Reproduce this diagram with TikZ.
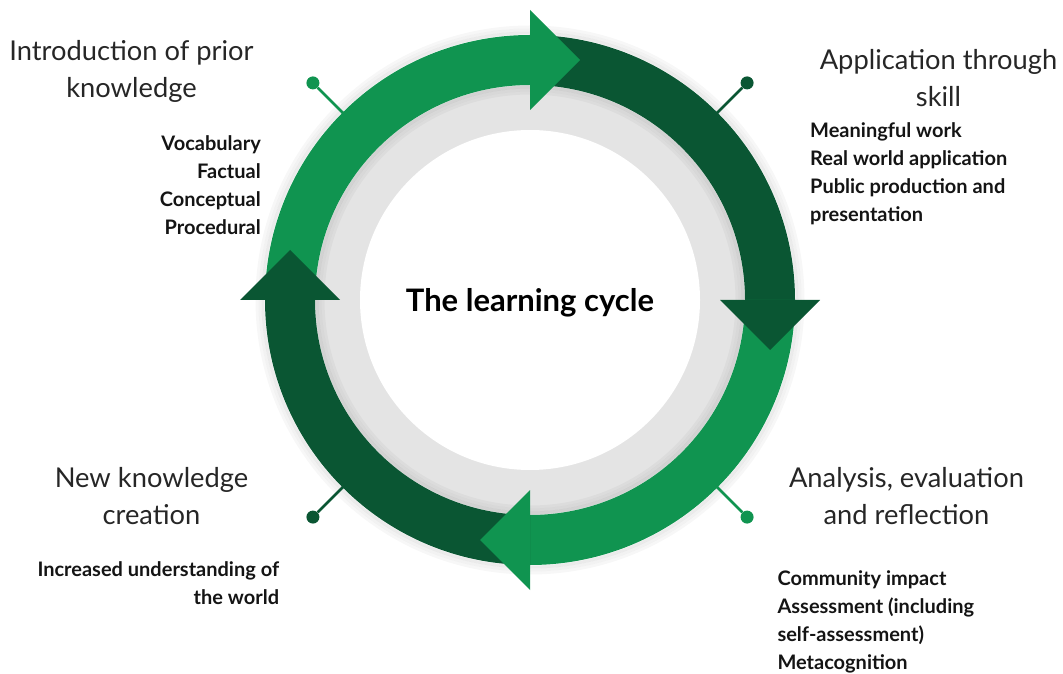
\documentclass[tikz,border=0pt]{standalone}
\usepackage{fontspec}
\setmainfont{Lato}
\usetikzlibrary{calc}
\definecolor{cyclelight}{HTML}{109450}
\definecolor{cycledark}{HTML}{0A5633}
\definecolor{ringgrey}{HTML}{E4E4E4}

\begin{document}
\begin{tikzpicture}[x=1pt, y=1pt,
    title/.style={inner sep=0, anchor=base, text=black!85, font=\fontsize{27.3}{30}\selectfont},
    item/.style={inner sep=0, text=black!92, font=\fontsize{20}{24}\selectfont\bfseries},
    knob/.style={circle, inner sep=0, minimum size=13pt}]
  \useasboundingbox (0,0) rectangle (1063,673);
  \coordinate (c) at (530,373);
  % grey ring
  \fill[ringgrey] (c) circle[radius=215];
  \foreach \r/\o in {213/.08, 210/.05, 207/.03}
  \draw[black, opacity=\o, line width=3pt] (c) circle[radius=\r];
  \fill[white] (c) circle[radius=170];
  \foreach \r/\o in {267/.08, 270/.05, 273/.03}
  \draw[black, opacity=\o, line width=3pt] (c) circle[radius=\r];
  % arrows
  \foreach \a/\col in {180/cyclelight, 90/cycledark, 0/cyclelight, 270/cycledark}
  \fill[\col] ($(c)+(\a:265)$) arc[start angle=\a, end angle=\a-90, radius=265]
    -- ($(c)+(\a-90:215)$) arc[start angle=\a-90, end angle=\a, radius=215] -- cycle;
  \foreach \a/\col in {90/cyclelight, 0/cycledark, 270/cyclelight, 180/cycledark}
  \fill[\col] ($(c)+(\a:190)$) -- ($(c)+(\a:290)$) -- ($(c)+(\a:240)+(\a-90:50)$) -- cycle;
  % knobs
  \foreach \a/\col [count=\i] in {135/cyclelight, 45/cycledark, 225/cycledark, 315/cyclelight}{
    \node[knob, fill=\col] (knob\i) at ($(c)+(\a:307)$) {};
    \draw[\col, line width=2.5pt] (knob\i) -- ($(c)+(\a:262)$);
  }
  \node[inner sep=0, anchor=base, font=\fontsize{31}{34}\selectfont\bfseries] (cycle) at (530,361) {The learning cycle};
  % titles
  \foreach \t [count=\i] in {Introduction of prior, knowledge}
  \node[title] (intro\i) at ({131.5},{673-61-37*(\i-1)}) {\t};
  \foreach \t [count=\i] in {Application through, skill}
  \node[title] (apply\i) at ({938.5},{673-70-37*(\i-1)}) {\t};
  \foreach \t [count=\i] in {New knowledge, creation}
  \node[title] (new\i) at ({151.5},{673-487-37*(\i-1)}) {\t};
  \foreach \t [count=\i] in {{Analysis, evaluation}, and reflection}
  \node[title] (anal\i) at ({906.5},{673-487-37*(\i-1)}) {\t};
  % lists
  \foreach \t [count=\i] in {Vocabulary, Factual, Conceptual, Procedural}
  \node[item, anchor=base east] (introitem\i) at ({261},{673-150.7-28*(\i-1)}) {\t};
  \foreach \t [count=\i] in {Meaningful work, Real world application, Public production and, presentation}
  \node[item, anchor=base west] (applyitem\i) at ({810},{673-137.3-28*(\i-1)}) {\t};
  \foreach \t [count=\i] in {Increased understanding of, the world}
  \node[item, anchor=base east] (newitem\i) at ({279.3},{673-576.7-28*(\i-1)}) {\t};
  \foreach \t [count=\i] in {Community impact, Assessment (including, self-assessment), Metacognition}
  \node[item, anchor=base west] (analitem\i) at ({777.3},{673-585-28*(\i-1)}) {\t};
\end{tikzpicture}
\end{document}
